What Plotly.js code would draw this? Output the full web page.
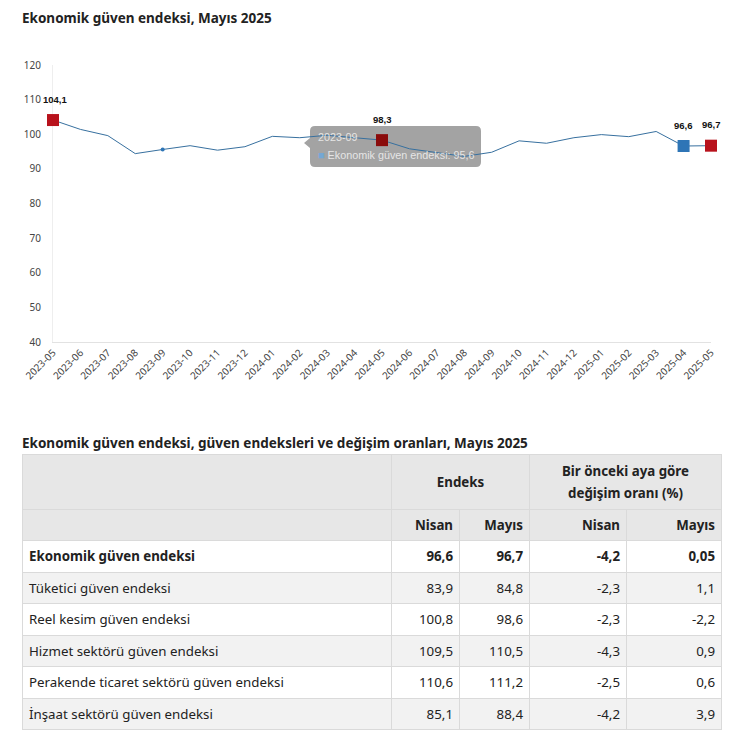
<!DOCTYPE html>
<html>
<head>
<meta charset="utf-8">
<script src="https://cdn.plot.ly/plotly-3.0.1.min.js"></script>
<style>
  html, body { margin: 0; padding: 0; background: #fff; width: 747px; height: 731px; overflow: hidden; }
  body { position: relative; font-family: "Noto Sans", "Open Sans", sans-serif; color: #222; }
  #chart { position: absolute; left: 0; top: 0; width: 747px; height: 430px; }
  #ttitle { position: absolute; left: 22px; top: 434px; font-size: 13.5px; font-weight: bold; line-height: 18px; color: #222; white-space: nowrap; }
  #tbl { position: absolute; left: 22px; top: 454px; width: 700px; border-collapse: collapse; font-size: 13.3px; color: #222; }
  #tbl td, #tbl th { border: 1px solid #dadada; padding: 0 6px; }
  #tbl th { background: #e7e7e7; font-weight: bold; }
  #tbl td.num, #tbl th.num { text-align: right; }
  #tbl td.lab { text-align: left; }
</style>
</head>
<body>
<div id="chart"></div>
<div id="ttitle"></div>
<table id="tbl"></table>
<script>
// ---- chart data ----
const months = ["2023-05","2023-06","2023-07","2023-08","2023-09","2023-10","2023-11","2023-12",
  "2024-01","2024-02","2024-03","2024-04","2024-05","2024-06","2024-07","2024-08","2024-09",
  "2024-10","2024-11","2024-12","2025-01","2025-02","2025-03","2025-04","2025-05"];
const values = [104.1,101.4,99.6,94.4,95.6,96.7,95.4,96.4,
  99.4,99.0,99.7,99.1,98.3,95.8,94.6,93.6,94.8,
  98.1,97.4,99.0,99.9,99.3,100.8,96.6,96.7];
const highlightMonths = ["2023-05","2024-05","2025-04","2025-05"];
const highlightColors = ["#b8121c","#8a0b0b","#2e75b6","#b8121c"];
const hoverMonth = "2023-09";
const seriesName = "Ekonomik güven endeksi";

// ---- table data ----
const tableTitle = "Ekonomik güven endeksi, güven endeksleri ve değişim oranları, Mayıs 2025";
const rowLabels = ["Ekonomik güven endeksi","Tüketici güven endeksi","Reel kesim güven endeksi",
  "Hizmet sektörü güven endeksi","Perakende ticaret sektörü güven endeksi","İnşaat sektörü güven endeksi"];
const nisanIdx = [96.6, 83.9, 100.8, 109.5, 110.6, 85.1];
const mayisIdx = [96.7, 84.8, 98.6, 110.5, 111.2, 88.4];
const nisanChg = [-4.2, -2.3, -2.3, -4.3, -2.5, -4.2];
const mayisChg = [0.05, 1.1, -2.2, 0.9, 0.6, 3.9];

const fmt = v => String(v).replace('.', ',');

const hiVals = highlightMonths.map(m => values[months.indexOf(m)]);
const hoverVal = values[months.indexOf(hoverMonth)];

// plot area geometry (pixels) for placing the tooltip box
const PL = 53, PR = 711, PT = 65, PB = 342;
const px = x => (x - PL) / (PR - PL);
const py = y => (PB - y) / (PB - PT);
function roundedBox(x0, y0, x1, y1, r) {
  return 'M' + px(x0 + r) + ',' + py(y0) +
    ' L' + px(x1 - r) + ',' + py(y0) + ' Q' + px(x1) + ',' + py(y0) + ' ' + px(x1) + ',' + py(y0 + r) +
    ' L' + px(x1) + ',' + py(y1 - r) + ' Q' + px(x1) + ',' + py(y1) + ' ' + px(x1 - r) + ',' + py(y1) +
    ' L' + px(x0 + r) + ',' + py(y1) + ' Q' + px(x0) + ',' + py(y1) + ' ' + px(x0) + ',' + py(y1 - r) +
    ' L' + px(x0) + ',' + py(y0 + 22) + ' L' + px(x0 - 6) + ',' + py(y0 + 17) + ' L' + px(x0) + ',' + py(y0 + 12) +
    ' L' + px(x0) + ',' + py(y0 + r) + ' Q' + px(x0) + ',' + py(y0) + ' ' + px(x0 + r) + ',' + py(y0) + ' Z';
}

const traces = [
  {
    x: months, y: values, type: 'scatter', mode: 'lines',
    line: {color: '#37709f', width: 1}, hoverinfo: 'skip', showlegend: false, cliponaxis: false
  },
  {
    x: [hoverMonth], y: [hoverVal], type: 'scatter', mode: 'markers',
    marker: {color: '#2e75b6', size: 4}, hoverinfo: 'skip', showlegend: false
  },
  {
    x: highlightMonths, y: hiVals, type: 'scatter', mode: 'markers',
    marker: {color: highlightColors, size: 12, symbol: 'square', line: {width: 0}},
    cliponaxis: false, hoverinfo: 'skip', showlegend: false
  }
];

const labelAnns = highlightMonths.map((m, i) => ({
  x: m, y: hiVals[i], xref: 'x', yref: 'y', showarrow: false,
  text: '<b>' + fmt(hiVals[i]) + '</b>', yshift: 21, xshift: i === 0 ? 2 : 0,
  xanchor: 'center', yanchor: 'middle',
  font: {family: 'Liberation Sans, Arial, sans-serif', size: 9.5, color: '#111'}
}));

const tipFont = {size: 10.8, color: 'rgba(238,238,238,0.9)', family: 'Liberation Sans, Arial, sans-serif'};

const layout = {
  width: 747, height: 430,
  margin: {l: PL, r: 747 - PR, t: PT, b: 430 - PB},
  paper_bgcolor: '#fff', plot_bgcolor: '#fff',
  font: {family: 'Noto Sans, Open Sans, sans-serif', color: '#444', size: 10},
  title: {
    text: '<b>Ekonomik güven endeksi, Mayıs 2025</b>',
    xref: 'container', yref: 'container', x: 22/747, xanchor: 'left',
    y: 1 - 18/430, yanchor: 'middle',
    font: {family: 'Noto Sans, Open Sans, sans-serif', size: 13.5, color: '#222'}
  },
  xaxis: {
    type: 'category', range: [0, months.length - 1],
    showgrid: false, zeroline: false, layer: 'below traces',
    showline: true, linecolor: '#e2e2e2', linewidth: 1,
    ticks: '', tickangle: -45, tickfont: {size: 10, color: '#444'}
  },
  yaxis: {
    range: [40, 120], dtick: 10, tick0: 40,
    showgrid: false, zeroline: false, layer: 'below traces',
    showline: true, linecolor: '#eeeeee', linewidth: 1,
    ticks: '', tickfont: {size: 10, color: '#444'}, ticklabelstandoff: 9
  },
  shapes: [
    {
      type: 'path', xref: 'paper', yref: 'paper', layer: 'below',
      path: roundedBox(310, 126, 481, 167, 5),
      fillcolor: 'rgba(128,128,128,0.72)', line: {width: 0}
    }
  ],
  annotations: labelAnns.concat([
    {
      xref: 'paper', yref: 'paper', x: px(317), y: py(137),
      xanchor: 'left', yanchor: 'middle', align: 'left', showarrow: false,
      text: hoverMonth, borderpad: 0, font: tipFont
    },
    {
      xref: 'paper', yref: 'paper', x: px(317), y: py(155),
      xanchor: 'left', yanchor: 'middle', align: 'left', showarrow: false,
      text: '<span style="color:#6fa8dc">■</span> ' + seriesName + ': ' + fmt(hoverVal),
      borderpad: 0, font: tipFont
    }
  ])
};

Plotly.newPlot('chart', traces, layout, {displayModeBar: false, staticPlot: true});

// ---- table ----
document.getElementById('ttitle').textContent = tableTitle;
let html = '';
html += '<tr style="height:55px"><th style="width:356px"></th>' +
  '<th colspan="2" style="text-align:center">Endeks</th>' +
  '<th colspan="2" style="text-align:center;line-height:22px">Bir önceki aya göre<br>değişim oranı (%)</th></tr>';
html += '<tr style="height:31px"><th></th>' +
  '<th class="num" style="width:55px">Nisan</th><th class="num" style="width:57px">Mayıs</th>' +
  '<th class="num" style="width:84px">Nisan</th><th class="num">Mayıs</th></tr>';
rowLabels.forEach((lab, i) => {
  const bg = (i % 2 === 1) ? '#f2f2f2' : '#ffffff';
  const fw = i === 0 ? 'bold' : 'normal';
  html += '<tr style="height:31.5px;background:' + bg + ';font-weight:' + fw + '">' +
    '<td class="lab">' + lab + '</td>' +
    '<td class="num">' + fmt(nisanIdx[i]) + '</td>' +
    '<td class="num">' + fmt(mayisIdx[i]) + '</td>' +
    '<td class="num">' + fmt(nisanChg[i]) + '</td>' +
    '<td class="num">' + fmt(mayisChg[i]) + '</td></tr>';
});
document.getElementById('tbl').innerHTML = html;
</script>
</body>
</html>
